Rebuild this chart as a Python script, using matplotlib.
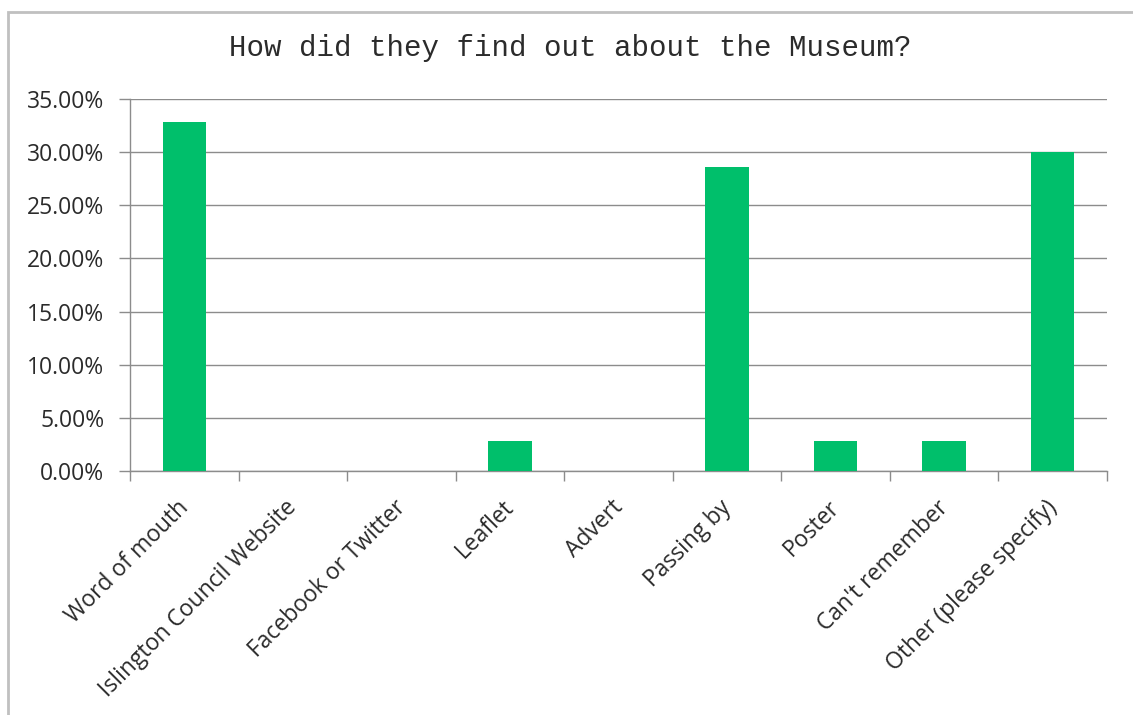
import matplotlib
matplotlib.use("Agg")
import matplotlib.pyplot as plt
from matplotlib.patches import Rectangle
from matplotlib.ticker import FuncFormatter, MultipleLocator, NullFormatter

# survey answers, share of visitors (fraction)
categories = ["Word of mouth", "Islington Council Website", "Facebook or Twitter",
              "Leaflet", "Advert", "Passing by", "Poster", "Can't remember",
              "Other (please specify)"]
shares = [0.3286, 0.0, 0.0, 0.0286, 0.0, 0.2857, 0.0286, 0.0286, 0.30]

bar_color = "#00BF6B"
grid_color = "#8C8C8C"
text_color = "#2B2B2B"

fig = plt.figure(figsize=(11.33, 7.15), dpi=100)
fig.patch.set_facecolor("white")

# chart area border, cut off at right and bottom
fig.patches.append(Rectangle((8 / 1133, -0.1), 1.2, 1.1 - 12 / 715,
                             transform=fig.transFigure, fill=False,
                             edgecolor="#C0C0C0", linewidth=2.0))

ax = fig.add_axes([130 / 1133, 244 / 715, 977 / 1133, 372 / 715])
x = list(range(len(categories)))
ax.bar(x, shares, width=0.4, color=bar_color, zorder=3)

ax.set_xlim(-0.5, len(categories) - 0.5)
ax.set_ylim(0, 0.35)
ax.yaxis.set_major_locator(MultipleLocator(0.05))
ax.yaxis.set_major_formatter(FuncFormatter(lambda v, p: f"{v * 100:.2f}%"))
ax.grid(axis="y", color=grid_color, linewidth=1.0, zorder=0)

for s in ["top", "right"]:
    ax.spines[s].set_visible(False)
for s in ["left", "bottom"]:
    ax.spines[s].set_color(grid_color)
    ax.spines[s].set_linewidth(1.0)

# category ticks sit between bars, labels written under each bar
ax.set_xticks([i - 0.5 for i in range(len(categories) + 1)])
ax.xaxis.set_major_formatter(NullFormatter())
ax.tick_params(axis="x", which="major", length=7, color=grid_color, width=1.0)
for i, name in zip(x, categories):
    ax.annotate(name, xy=(i, 0), xycoords=("data", "axes fraction"),
                xytext=(0.5, -24), textcoords="offset points",
                rotation=45, rotation_mode="anchor", ha="right", va="center",
                fontsize=16.5, family="Open Sans", color=text_color,
                annotation_clip=False)

ax.tick_params(axis="y", length=8, color=grid_color, width=1.0, pad=10.5,
               labelsize=16.5, labelcolor=text_color)
for lbl in ax.get_yticklabels():
    lbl.set_family("Open Sans")

fig.text(570 / 1133, 1 - 48 / 715, "How did they find out about the Museum?",
         ha="center", va="center", family="Liberation Mono", fontsize=21,
         color=text_color)

fig.savefig("out.png", dpi=100)
